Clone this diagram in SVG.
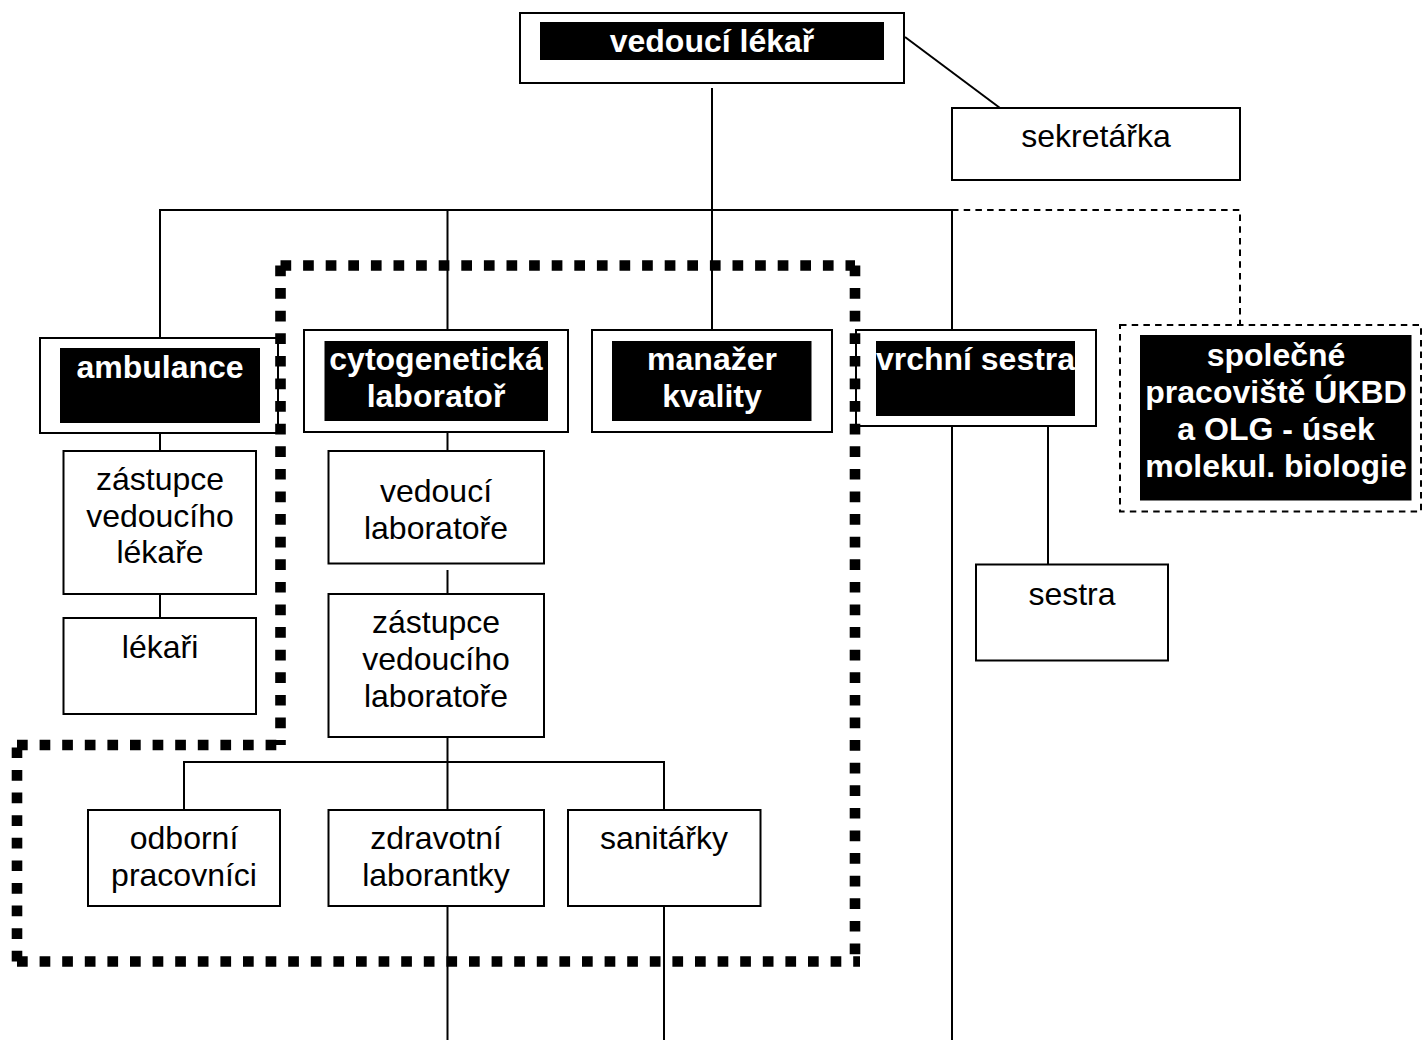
<svg xmlns="http://www.w3.org/2000/svg" width="1424" height="1040" viewBox="0 0 1424 1040">
  <style>
    .box { fill: #fff; stroke: #000; stroke-width: 2; }
    .head { fill: #000; stroke: none; }
    .ln { fill: none; stroke: #000; stroke-width: 2; }
    .dash { fill: none; stroke: #000; stroke-width: 2; stroke-dasharray: 6.5 5.2; }
    .dot { fill: none; stroke: #000; stroke-width: 10.6; stroke-dasharray: 10.7 11.9; }
    text { font-family: "Liberation Sans", Arial, sans-serif; font-size: 32px; text-anchor: middle; fill: #000; }
    .w { fill: #fff; font-weight: bold; }
  </style>
  <rect width="1424" height="1040" fill="#fff"/>

  <!-- connectors -->
  <g id="connectors">
    <line class="ln" x1="712" y1="88" x2="712" y2="330"/>
    <line class="ln" x1="159" y1="210" x2="952" y2="210"/>
    <line class="ln" x1="160" y1="209" x2="160" y2="338"/>
    <line class="ln" x1="447.5" y1="210" x2="447.5" y2="330"/>
    <line class="ln" x1="952" y1="209" x2="952" y2="330"/>
    <line class="ln" x1="905" y1="37" x2="1000" y2="108"/>
    <polyline class="dash" points="952,210 1240,210 1240,325"/>
    <line class="ln" x1="160" y1="425" x2="160" y2="451"/>
    <line class="ln" x1="160" y1="594" x2="160" y2="618"/>
    <line class="ln" x1="447.5" y1="423" x2="447.5" y2="451"/>
    <line class="ln" x1="447.5" y1="570" x2="447.5" y2="594"/>
    <line class="ln" x1="447.5" y1="737" x2="447.5" y2="810"/>
    <line class="ln" x1="183" y1="762" x2="665" y2="762"/>
    <line class="ln" x1="184" y1="761" x2="184" y2="810"/>
    <line class="ln" x1="664" y1="761" x2="664" y2="810"/>
    <line class="ln" x1="447.5" y1="900" x2="447.5" y2="1040"/>
    <line class="ln" x1="664" y1="900" x2="664" y2="1040"/>
    <line class="ln" x1="952" y1="420" x2="952" y2="1040"/>
    <line class="ln" x1="1048" y1="426" x2="1048" y2="565"/>
  </g>

  <!-- head of department -->
  <g id="vedouci-lekar">
    <rect class="box" x="520" y="13" width="384" height="70"/>
    <rect class="head" x="540" y="22" width="344" height="38"/>
    <text class="w" x="712" y="52">vedoucí lékař</text>
  </g>

  <g id="sekretarka">
    <rect class="box" x="952" y="108" width="288" height="72"/>
    <text x="1096" y="147">sekretářka</text>
  </g>

  <g id="ambulance">
    <rect class="box" x="40" y="338" width="238" height="95"/>
    <rect class="head" x="60" y="348" width="200" height="75"/>
    <text class="w" x="160" y="378">ambulance</text>
  </g>

  <g id="cytogeneticka-laborator">
    <rect class="box" x="304" y="330" width="264" height="102"/>
    <rect class="head" x="324.5" y="341" width="223.5" height="80"/>
    <text class="w" x="436" y="370">cytogenetická</text>
    <text class="w" x="436" y="407">laboratoř</text>
  </g>

  <g id="manazer-kvality">
    <rect class="box" x="592" y="330" width="240" height="102"/>
    <rect class="head" x="612" y="341" width="199.5" height="80"/>
    <text class="w" x="712" y="370">manažer</text>
    <text class="w" x="712" y="407">kvality</text>
  </g>

  <g id="vrchni-sestra">
    <rect class="box" x="856" y="330" width="240" height="96"/>
    <rect class="head" x="876" y="341" width="199" height="75"/>
    <text class="w" x="975.5" y="370">vrchní sestra</text>
  </g>

  <g id="spolecne-pracoviste">
    <rect class="box" x="1120" y="325" width="301" height="186.5" style="stroke-dasharray: 6.5 5.2;"/>
    <rect class="head" x="1140" y="335" width="271.5" height="165.5"/>
    <text class="w" x="1276" y="366">společné</text>
    <text class="w" x="1276" y="403">pracoviště ÚKBD</text>
    <text class="w" x="1276" y="440">a OLG - úsek</text>
    <text class="w" x="1276" y="477">molekul. biologie</text>
  </g>

  <g id="zastupce-vedouciho-lekare">
    <rect class="box" x="63.5" y="451" width="192.5" height="143"/>
    <text x="160" y="490">zástupce</text>
    <text x="160" y="527">vedoucího</text>
    <text x="160" y="563">lékaře</text>
  </g>

  <g id="lekari">
    <rect class="box" x="63.5" y="618" width="192.5" height="96"/>
    <text x="160" y="658">lékaři</text>
  </g>

  <g id="vedouci-laboratore">
    <rect class="box" x="328.5" y="451" width="215.5" height="112.5"/>
    <text x="436" y="502">vedoucí</text>
    <text x="436" y="539">laboratoře</text>
  </g>

  <g id="zastupce-vedouciho-laboratore">
    <rect class="box" x="328.5" y="594" width="215.5" height="143"/>
    <text x="436" y="633">zástupce</text>
    <text x="436" y="670">vedoucího</text>
    <text x="436" y="707">laboratoře</text>
  </g>

  <g id="odborni-pracovnici">
    <rect class="box" x="88" y="810" width="192" height="96"/>
    <text x="184" y="849">odborní</text>
    <text x="184" y="886">pracovníci</text>
  </g>

  <g id="zdravotni-laborantky">
    <rect class="box" x="328.5" y="810" width="215.5" height="96"/>
    <text x="436" y="849">zdravotní</text>
    <text x="436" y="886">laborantky</text>
  </g>

  <g id="sanitarky">
    <rect class="box" x="568" y="810" width="192.5" height="96"/>
    <text x="664" y="849">sanitářky</text>
  </g>

  <g id="sestra">
    <rect class="box" x="976" y="564.5" width="192" height="96"/>
    <text x="1072" y="605">sestra</text>
  </g>

  <!-- laboratory section boundary: heavy dotted outline, each side dashed from a corner -->
  <g id="laboratory-section">
    <line class="dot" x1="280.5" y1="265.5" x2="855" y2="265.5"/>
    <line class="dot" x1="280.5" y1="265.5" x2="280.5" y2="745"/>
    <line class="dot" x1="855" y1="265.5" x2="855" y2="961.5"/>
    <line class="dot" x1="17" y1="961.5" x2="860" y2="961.5"/>
    <line class="dot" x1="17" y1="961.5" x2="17" y2="745"/>
    <line class="dot" x1="17" y1="745" x2="285.5" y2="745"/>
  </g>
</svg>
